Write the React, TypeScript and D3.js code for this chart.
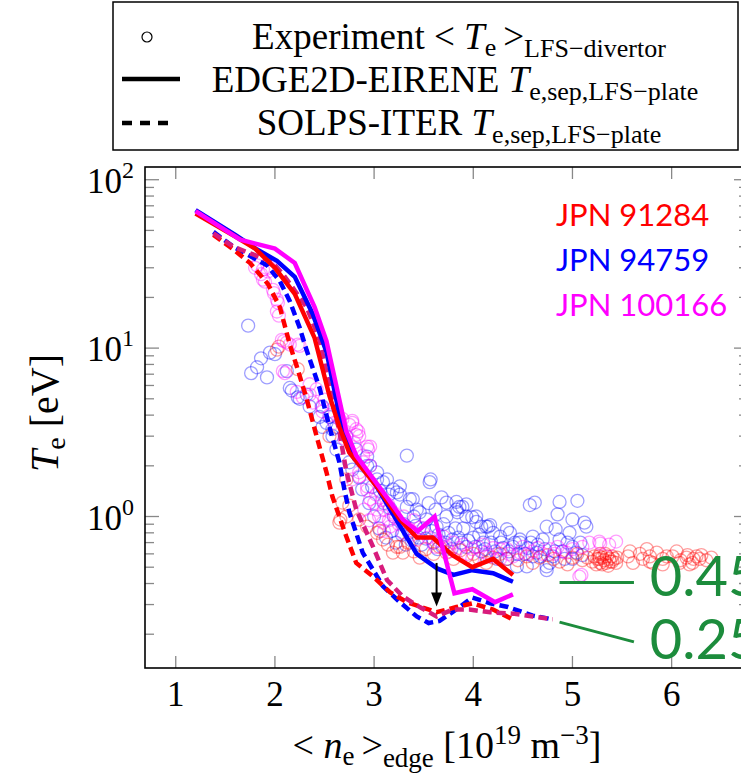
import React from 'react';
import * as d3 from 'd3';

type Pt = [number, number];

// shot labels and colours (red, blue, magenta)
const shots = ['JPN 91284', 'JPN 94759', 'JPN 100166'];
const shotColors = ['#ff0000', '#0000ff', '#ff00ff'];
const solpsColors = ['#ff0000', '#0000ff', '#d81c7c'];

const xTicks = [1, 2, 3, 4, 5, 6];
const yMajor = [1, 10, 100];

// EDGE2D-EIRENE, solid
const e2dRed: Pt[] = [
  [1.2, 63], [1.6, 46], [1.8, 39], [2.0, 30], [2.2, 21], [2.4, 11.5], [2.55, 5.2], [2.65, 3.4],
  [2.75, 2.4], [2.89, 1.9], [3.03, 1.5], [3.26, 0.96], [3.43, 0.75], [3.59, 0.75], [3.79, 0.59],
  [3.99, 0.5], [4.2, 0.56], [4.4, 0.45],
];
const e2dBlue: Pt[] = [
  [1.2, 66], [1.6, 47], [1.82, 38.5], [2.02, 33], [2.2, 26.5], [2.38, 16], [2.52, 9.5], [2.68, 3.3],
  [2.8, 2.2], [2.96, 1.75], [3.09, 1.3], [3.26, 0.88], [3.43, 0.6], [3.64, 0.49], [3.8, 0.45],
  [3.99, 0.48], [4.2, 0.46], [4.4, 0.41],
];
const e2dMagenta: Pt[] = [
  [1.2, 65], [1.65, 44], [2.0, 39], [2.2, 32], [2.4, 17.5], [2.52, 11], [2.72, 3.2], [2.82, 2.3],
  [2.99, 1.68], [3.13, 1.3], [3.29, 0.96], [3.44, 0.82], [3.61, 1.0], [3.81, 0.35], [3.99, 0.37],
  [4.22, 0.31], [4.4, 0.345],
];

// SOLPS-ITER, dashed
const solpsRed: Pt[] = [
  [1.38, 47], [1.57, 39], [1.75, 32], [1.93, 24], [2.05, 17.5], [2.15, 10.5], [2.22, 7.8], [2.32, 5.0],
  [2.42, 3.0], [2.52, 1.83], [2.58, 1.31], [2.72, 0.76], [2.82, 0.53], [2.99, 0.44], [3.16, 0.355],
  [3.33, 0.31], [3.63, 0.27], [3.83, 0.29], [3.99, 0.305], [4.2, 0.28], [4.4, 0.245],
];
const solpsBlue: Pt[] = [
  [1.38, 49], [1.58, 40], [1.92, 31], [2.05, 25], [2.15, 19], [2.25, 13.2], [2.32, 9.7], [2.45, 5.8],
  [2.55, 3.4], [2.65, 2.1], [2.7, 1.45], [2.75, 1.06], [2.885, 0.61], [3.09, 0.385], [3.26, 0.31],
  [3.43, 0.255], [3.55, 0.233], [3.66, 0.24], [3.79, 0.27], [3.99, 0.33], [4.17, 0.305], [4.35, 0.29],
  [4.6, 0.258], [4.8, 0.245],
];
const solpsMagenta: Pt[] = [
  [1.38, 48], [1.58, 40], [1.78, 36], [1.97, 32.5], [2.08, 27.5], [2.2, 22], [2.32, 17.5], [2.45, 11.2],
  [2.55, 5.9], [2.65, 3.2], [2.72, 1.85], [2.82, 1.1], [2.99, 0.66], [3.13, 0.42], [3.29, 0.335],
  [3.46, 0.29], [3.63, 0.255], [3.79, 0.28], [3.96, 0.28], [4.17, 0.27], [4.4, 0.265], [4.6, 0.255],
  [4.8, 0.245],
];

// experiment <Te>_LFS-divertor
const expBlue: Pt[] = [
  [1.73, 13.6], [1.76, 7.1], [1.82, 7.7], [1.86, 8.7], [1.92, 6.7], [1.95, 9.4], [2.0, 9.2], [2.12, 7.3],
  [2.15, 5.8], [2.17, 5.6], [2.23, 5.1], [2.25, 5.0], [2.32, 5.3], [2.35, 4.5], [2.45, 3.9], [2.48, 3.4],
  [2.48, 4.5], [2.52, 3.6], [2.55, 3.9], [2.58, 3.3], [2.58, 3.0], [2.62, 3.4], [2.62, 2.5], [2.72, 3.0],
  [2.75, 2.1], [2.78, 1.9], [2.82, 2.5], [2.85, 1.7], [2.88, 1.45], [2.93, 2.0], [2.93, 2.27], [2.95, 1.2],
  [2.96, 2.0], [3.0, 1.0], [3.03, 1.66], [3.03, 1.83], [3.05, 0.85], [3.09, 1.6], [3.1, 1.2], [3.13, 1.66],
  [3.15, 1.35], [3.19, 1.45], [3.2, 1.0], [3.23, 1.39], [3.26, 1.51], [3.26, 1.35], [3.3, 0.9], [3.33, 1.14],
  [3.33, 2.3], [3.35, 0.8], [3.36, 1.27], [3.39, 1.27], [3.4, 1.0], [3.43, 1.1], [3.45, 0.75], [3.46, 1.06],
  [3.5, 0.85], [3.53, 0.96], [3.55, 1.2], [3.56, 1.6], [3.57, 1.66], [3.6, 0.7], [3.62, 1.1], [3.63, 0.87],
  [3.65, 0.78], [3.68, 1.3], [3.69, 0.66], [3.7, 0.9], [3.73, 1.0], [3.73, 1.21], [3.75, 0.8], [3.79, 0.73],
  [3.83, 1.1], [3.83, 1.22], [3.84, 1.06], [3.85, 0.75], [3.86, 1.14], [3.89, 1.14], [3.9, 0.85], [3.93, 1.0],
  [3.93, 1.18], [3.93, 0.66], [3.99, 0.99], [4.0, 0.75], [4.03, 0.93], [4.03, 1.0], [4.08, 0.87], [4.08, 0.62],
  [4.1, 0.7], [4.13, 0.87], [4.13, 0.58], [4.15, 0.87], [4.17, 0.89], [4.2, 0.8], [4.24, 0.56], [4.27, 0.76],
  [4.3, 0.65], [4.34, 0.84], [4.34, 0.56], [4.37, 0.8], [4.4, 0.66], [4.44, 0.505], [4.45, 0.6], [4.47, 0.73],
  [4.47, 0.7], [4.54, 0.505], [4.55, 0.65], [4.57, 1.17], [4.6, 0.76], [4.6, 0.58], [4.62, 1.21], [4.64, 0.61],
  [4.65, 0.68], [4.7, 0.73], [4.74, 0.87], [4.74, 0.505], [4.74, 0.48], [4.77, 0.53], [4.8, 0.58], [4.83, 0.84],
  [4.85, 1.03], [4.87, 1.22], [4.87, 0.73], [4.9, 0.62], [4.95, 0.7], [5.0, 0.96], [5.0, 0.66], [5.0, 0.56],
  [5.04, 0.61], [5.05, 1.24], [5.1, 0.59], [5.12, 0.92], [5.14, 0.87],
  [3.12, 0.75], [3.18, 0.82], [3.22, 0.7], [3.28, 0.78], [3.32, 0.68], [3.38, 0.72], [3.42, 0.88],
  [3.48, 0.68], [3.52, 0.74], [3.58, 0.82], [3.64, 0.64], [3.72, 0.7], [3.78, 0.64], [3.82, 0.85],
  [3.88, 0.7], [3.95, 0.72], [4.02, 0.66], [4.06, 0.78], [4.12, 0.64], [4.18, 0.7], [4.22, 0.62],
  [4.28, 0.7], [4.36, 0.62], [4.42, 0.7], [4.52, 0.6], [4.58, 0.7], [4.68, 0.58], [4.72, 0.64],
  [4.82, 0.62], [4.92, 0.56], [4.97, 0.8], [5.08, 0.7], [2.98, 1.5], [3.06, 1.42], [3.16, 1.12],
];
const expRed: Pt[] = [
  [2.02, 9.8], [2.04, 10.2], [2.23, 7.5], [2.55, 3.0], [2.72, 1.66], [2.65, 0.92], [2.66, 0.96], [2.68, 1.21],
  [2.72, 1.0], [2.75, 1.16], [2.85, 0.96], [2.93, 0.87], [3.03, 0.8], [3.06, 0.82], [3.09, 0.73], [3.14, 0.68],
  [3.19, 0.61], [3.23, 0.66], [3.26, 0.66], [3.29, 0.61], [3.34, 0.7], [3.4, 0.62], [3.46, 0.57], [3.52, 0.64],
  [3.6, 0.6], [3.66, 0.66], [3.73, 0.61], [3.8, 0.56], [3.87, 0.63], [3.93, 0.58], [4.0, 0.6], [4.06, 0.56],
  [4.13, 0.53], [4.2, 0.57], [4.27, 0.6], [4.34, 0.56], [4.45, 0.55], [4.54, 0.58], [4.6, 0.53], [4.67, 0.57],
  [4.75, 0.59], [4.81, 0.56], [4.87, 0.54], [4.95, 0.52], [5.0, 0.57], [5.05, 0.6], [5.1, 0.55], [5.15, 0.57],
  [5.2, 0.54], [5.22, 0.58], [5.24, 0.52], [5.25, 0.56], [5.27, 0.58], [5.27, 0.56], [5.28, 0.53], [5.28, 0.6],
  [5.3, 0.52], [5.3, 0.57], [5.32, 0.55], [5.33, 0.6], [5.34, 0.53], [5.35, 0.58], [5.36, 0.51], [5.37, 0.56],
  [5.38, 0.54], [5.4, 0.54], [5.4, 0.58], [5.42, 0.56], [5.44, 0.53], [5.45, 0.57], [5.56, 0.58], [5.58, 0.62],
  [5.61, 0.53], [5.68, 0.6], [5.71, 0.56], [5.75, 0.64], [5.78, 0.58], [5.78, 0.54], [5.81, 0.53], [5.85, 0.61],
  [5.91, 0.56], [5.91, 0.52], [5.95, 0.58], [6.01, 0.58], [6.05, 0.62], [6.08, 0.53], [6.09, 0.55], [6.15, 0.57],
  [6.16, 0.59], [6.18, 0.52], [6.21, 0.53], [6.22, 0.56], [6.25, 0.58], [6.28, 0.56], [6.3, 0.59], [6.35, 0.55],
  [6.4, 0.57],
];
const expMagenta: Pt[] = [
  [1.8, 30], [1.82, 31], [1.88, 29.3], [1.86, 27.5], [1.93, 28.5], [1.95, 30], [1.88, 25.5], [1.9, 24.8],
  [1.98, 22.2], [1.99, 21.2], [2.02, 19.4], [2.03, 18.6], [2.02, 16.5], [2.04, 15.6], [2.07, 11.2], [2.09, 11],
  [2.12, 10.8], [2.15, 10.5], [2.23, 10.5], [2.25, 10.3], [2.08, 7.3], [2.1, 7.1], [2.22, 5.5], [2.28, 5.1],
  [2.35, 5.3], [2.35, 6.1], [2.38, 4.75], [2.42, 5.7], [2.47, 4.5], [2.48, 4.2], [2.5, 4.95], [2.55, 4.0],
  [2.6, 3.6], [2.65, 3.8], [2.68, 3.8], [2.7, 2.9], [2.75, 3.5], [2.78, 3.6], [2.78, 3.7], [2.82, 3.05],
  [2.82, 3.3], [2.84, 3.2], [2.85, 3.0], [2.8, 2.75], [2.89, 2.3], [2.89, 2.1], [2.93, 2.6], [2.94, 2.5],
  [2.96, 2.6], [2.96, 2.0], [2.85, 1.73], [2.85, 1.83], [2.78, 1.66], [2.93, 1.43], [2.93, 1.51], [2.96, 1.27],
  [2.9, 1.1], [2.95, 0.95], [3.0, 1.2], [3.03, 1.1], [3.05, 1.0], [3.09, 0.92], [3.1, 1.1], [3.1, 0.82],
  [3.15, 0.95], [3.16, 0.87], [3.2, 1.05], [3.25, 0.9], [3.29, 0.8], [3.35, 0.85], [3.4, 0.95], [3.43, 0.73],
  [3.5, 0.8], [3.55, 0.75], [3.59, 0.7], [3.65, 0.72], [3.73, 0.66], [3.8, 0.7], [3.86, 0.65], [3.9, 0.68],
  [3.99, 0.64], [3.99, 0.56], [4.05, 0.66], [4.13, 0.61], [4.2, 0.65], [4.27, 0.64], [4.27, 0.56], [4.34, 0.64],
  [4.4, 0.58], [4.47, 0.61], [4.5, 0.66], [4.6, 0.62], [4.7, 0.6], [4.77, 0.64], [4.85, 0.66], [4.9, 0.62],
  [4.94, 0.61], [5.0, 0.64], [5.07, 0.44], [5.09, 0.45], [5.1, 0.66], [5.17, 0.7], [5.27, 0.71], [5.28, 0.69],
  [5.37, 0.68], [5.44, 0.71],
  [3.02, 1.35], [3.08, 1.25], [3.14, 1.18], [3.22, 0.98], [3.3, 1.0], [3.38, 0.78], [3.46, 0.86],
  [3.62, 0.66], [3.7, 0.76], [3.76, 0.62], [3.94, 0.6], [4.1, 0.68], [4.16, 0.58], [4.36, 0.6],
  [4.55, 0.6], [4.65, 0.65], [4.82, 0.6],
];

// green labels of the lowest Te reached, and the arrow marking the dip
const greenLabels = ['0.45', '0.25'];
const greenLines: [Pt, Pt][] = [[[4.87, 0.406], [5.62, 0.406]], [[4.87, 0.236], [5.62, 0.18]]];
const greenTextAt: Pt[] = [[5.78, 0.335], [5.78, 0.143]];
const arrow: [Pt, Pt] = [[3.63, 0.53], [3.63, 0.292]];

const W = 741;
const H = 775;
const serif = '"Liberation Serif", "DejaVu Serif", serif';
const sans = 'Lato, "Liberation Sans", sans-serif';

export default function App() {
  const x = d3.scaleLinear().domain([0.69, 6.77]).range([145, 748]);
  const y = d3.scaleLog().domain([0.126, 119]).range([668, 167]);
  const line = d3.line<Pt>().x(d => x(d[0])).y(d => y(d[1]));
  const [x0, x1] = x.range();
  const [yb, yt] = y.range();
  const yMinor = y.ticks().filter(v => !yMajor.includes(v));

  const scatter = (pts: Pt[], color: string, key: string) => (
    <g key={key}>
      {pts.map((p, i) => (
        <circle key={i} cx={x(p[0])} cy={y(p[1])} r={6.5} fill="none" stroke={color}
          strokeWidth={1.3} strokeOpacity={0.38} />
      ))}
    </g>
  );

  const solps = [solpsRed, solpsBlue, solpsMagenta];
  const e2d = [e2dRed, e2dBlue, e2dMagenta];
  const drawOrder = [1, 0, 2];

  return (
    <svg width={W} height={H} style={{ position: 'absolute', left: 0, top: 0, background: '#fff' }}>
      {/* legend */}
      <rect x={113} y={2} width={625} height={148} fill="#fff" stroke="#000" strokeWidth={1.5} />
      <circle cx={147} cy={37} r={5} fill="none" stroke="#000" strokeWidth={1.2} />
      <line x1={122} x2={180} y1={79} y2={79} stroke="#000" strokeWidth={4.5} />
      <line x1={122} x2={176} y1={123} y2={123} stroke="#000" strokeWidth={4.5} strokeDasharray="10,8" />
      <g fontFamily={serif} fontSize={37} textAnchor="middle" fill="#000">
        <text x={459} y={49}>
          {'Experiment < '}<tspan fontStyle="italic">T</tspan>
          <tspan fontSize={26} dy={7}>e</tspan>
          <tspan dy={-7} dx={7}>{'>'}</tspan>
          <tspan fontSize={26} dy={8}>LFS−divertor</tspan>
        </text>
        <text x={455} y={92}>
          {'EDGE2D-EIRENE '}<tspan fontStyle="italic">T</tspan>
          <tspan fontSize={26} dy={8}>e,sep,LFS−plate</tspan>
        </text>
        <text x={459} y={135}>
          {'SOLPS-ITER '}<tspan fontStyle="italic">T</tspan>
          <tspan fontSize={26} dy={8}>e,sep,LFS−plate</tspan>
        </text>
      </g>

      {/* ticks, inward on all sides */}
      <g stroke="#888" strokeWidth={1.3}>
        {xTicks.map(t => (
          <g key={t}>
            <line x1={x(t)} x2={x(t)} y1={yb} y2={yb - 12} />
            <line x1={x(t)} x2={x(t)} y1={yt} y2={yt + 12} />
          </g>
        ))}
        {yMajor.map(t => (
          <g key={t}>
            <line x1={x0} x2={x0 + 14} y1={y(t)} y2={y(t)} />
            <line x1={x1} x2={x1 - 14} y1={y(t)} y2={y(t)} />
          </g>
        ))}
        {yMinor.map(t => (
          <g key={t}>
            <line x1={x0} x2={x0 + 9} y1={y(t)} y2={y(t)} />
            <line x1={x1} x2={x1 - 9} y1={y(t)} y2={y(t)} />
          </g>
        ))}
      </g>

      {/* experiment */}
      {scatter(expBlue, shotColors[1], 'eb')}
      {scatter(expRed, shotColors[0], 'er')}
      {scatter(expMagenta, shotColors[2], 'em')}

      {/* SOLPS-ITER dashed */}
      {drawOrder.map(i => (
        <path key={'s' + i} d={line(solps[i]) || ''} fill="none" stroke={solpsColors[i]}
          strokeWidth={4.5} strokeDasharray="9,5" />
      ))}
      {/* EDGE2D-EIRENE solid */}
      {drawOrder.map(i => (
        <path key={'e' + i} d={line(e2d[i]) || ''} fill="none" stroke={shotColors[i]} strokeWidth={4.5} />
      ))}

      {/* arrow */}
      <line x1={x(arrow[0][0])} x2={x(arrow[1][0])} y1={y(arrow[0][1])} y2={y(arrow[1][1]) - 12}
        stroke="#000" strokeWidth={2} />
      <path d={`M${x(arrow[1][0]) - 5.5},${y(arrow[1][1]) - 14} L${x(arrow[1][0]) + 5.5},${y(arrow[1][1]) - 14} L${x(arrow[1][0])},${y(arrow[1][1])} Z`}
        fill="#000" />

      {/* green annotations */}
      {greenLabels.map((lab, i) => (
        <g key={lab}>
          <line x1={x(greenLines[i][0][0])} y1={y(greenLines[i][0][1])} x2={x(greenLines[i][1][0])}
            y2={y(greenLines[i][1][1])} stroke="#1c8c3c" strokeWidth={3} />
          <text x={x(greenTextAt[i][0])} y={y(greenTextAt[i][1])} fontFamily={sans} fontSize={56}
            fill="#1c8c3c">{lab}</text>
        </g>
      ))}

      {/* shot labels */}
      {shots.map((s, i) => (
        <text key={s} x={556} y={226 + i * 45} fontFamily={sans} fontSize={31} fill={shotColors[i]}>{s}</text>
      ))}

      {/* frame */}
      <rect x={x0} y={yt} width={x1 - x0} height={yb - yt} fill="none" stroke="#000" strokeWidth={1.6} />

      {/* tick labels */}
      <g fontFamily={serif} fontSize={35} fill="#000">
        {xTicks.map(t => (
          <text key={t} x={x(t)} y={706} textAnchor="middle">{t}</text>
        ))}
        {yMajor.map(t => (
          <text key={t} x={134} y={y(t) + 13} textAnchor="end">
            10<tspan fontSize={24} dy={-15}>{Math.round(Math.log10(t))}</tspan>
          </text>
        ))}
      </g>

      {/* axis titles */}
      <text x={447} y={758} textAnchor="middle" fontFamily={serif} fontSize={38}>
        {'< '}<tspan fontStyle="italic">n</tspan>
        <tspan fontSize={27} dy={7}>e</tspan>
        <tspan dy={-7} dx={7}>{'>'}</tspan>
        <tspan fontSize={27} dy={9}>edge</tspan>
        <tspan dy={-9}>{' [10'}</tspan>
        <tspan fontSize={27} dy={-14}>19</tspan>
        <tspan dy={14}>{' m'}</tspan>
        <tspan fontSize={27} dy={-14}>−3</tspan>
        <tspan dy={14}>]</tspan>
      </text>
      <text transform="translate(58,413) rotate(-90)" textAnchor="middle" fontFamily={serif} fontSize={40}>
        <tspan fontStyle="italic">T</tspan>
        <tspan fontSize={28} dy={7}>e</tspan>
        <tspan dy={-7}>{' [eV]'}</tspan>
      </text>
    </svg>
  );
}
